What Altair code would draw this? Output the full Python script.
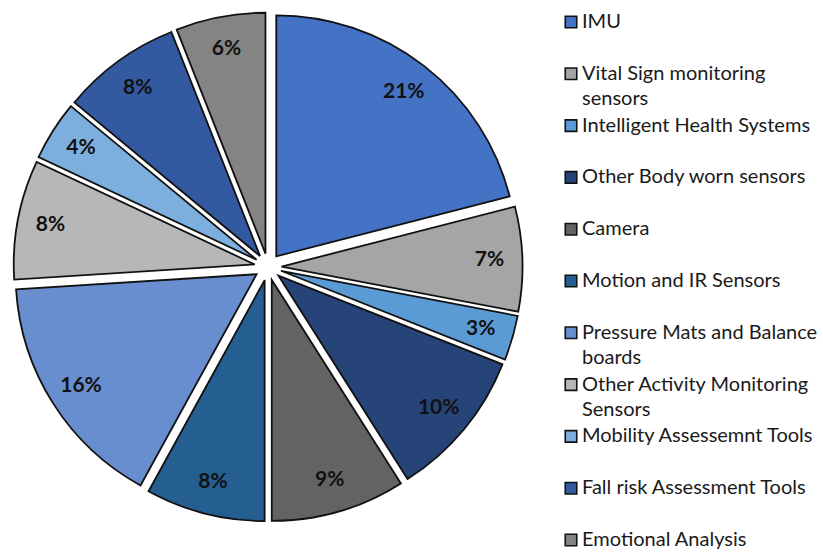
import altair as alt
import pandas as pd

# Sensor categories, their share of the studies (%) and slice colours
categories = [
    "IMU",
    "Vital Sign monitoring sensors",
    "Intelligent Health Systems",
    "Other Body worn sensors",
    "Camera",
    "Motion and IR Sensors",
    "Pressure Mats and Balance boards",
    "Other Activity Monitoring Sensors",
    "Mobility Assessemnt Tools",
    "Fall risk Assessment Tools",
    "Emotional Analysis",
]
shares = [21, 7, 3, 10, 9, 8, 16, 8, 4, 8, 6]
colors = [
    "#4472C4", "#A5A5A5", "#5B9BD5", "#264478", "#636363", "#255E91",
    "#698ED0", "#B7B7B7", "#7CAFDD", "#335AA1", "#848484",
]
# Legend text, wrapped the way the legend shows it
legend_text = [
    "IMU",
    "Vital Sign monitoring\nsensors",
    "Intelligent Health Systems",
    "Other Body worn sensors",
    "Camera",
    "Motion and IR Sensors",
    "Pressure Mats and Balance\nboards",
    "Other Activity Monitoring\nSensors",
    "Mobility Assessemnt Tools",
    "Fall risk Assessment Tools",
    "Emotional Analysis",
]

W, H = 823, 552
CX, CY = 268, 267      # pie centre
R = 241                # pie radius
EXPLODE = 13.5         # radial offset of each slice
LABEL_R = 208          # label distance from a slice's tip
FONT = "Lato"

pie = pd.DataFrame({"idx": range(len(categories)), "category": categories, "share": shares})
leg = pd.DataFrame({"idx": range(len(categories)), "category": categories, "text": legend_text})

color = alt.Color("category:N", scale=alt.Scale(domain=categories, range=colors), legend=None)

base = alt.Chart(pie).transform_window(
    cum="sum(share)", sort=[alt.SortField("idx")], frame=[None, 0]
).transform_calculate(
    t0="(datum.cum - datum.share) / 100 * 2 * PI",
    t1="datum.cum / 100 * 2 * PI",
).transform_calculate(
    mid="(datum.t0 + datum.t1) / 2"
).transform_calculate(
    px=f"{CX} + {EXPLODE} * sin(datum.mid)",
    py=f"{CY} - {EXPLODE} * cos(datum.mid)",
    lx=f"{CX} + {EXPLODE + LABEL_R} * sin(datum.mid)",
    ly=f"{CY} - {EXPLODE + LABEL_R} * cos(datum.mid)",
    lab="datum.share + '%'",
)

arcs = base.mark_arc(outerRadius=R, stroke="#111111", strokeWidth=1.8, strokeJoin="miter").encode(
    theta=alt.Theta("t0:Q", scale=None),
    theta2=alt.Theta2("t1:Q"),
    x=alt.X("px:Q", scale=None, axis=None),
    y=alt.Y("py:Q", scale=None, axis=None),
    color=color,
)

labels = base.mark_text(font=FONT, fontSize=21, fontWeight="bold", color="#111111",
                        align="center", baseline="middle").encode(
    x=alt.X("lx:Q", scale=None, axis=None),
    y=alt.Y("ly:Q", scale=None, axis=None),
    text="lab:N",
)

leg_base = alt.Chart(leg).transform_calculate(
    ly="22 + datum.idx * 51.8",
    lines="split(datum.text, '\\n')",
)

leg_marks = leg_base.mark_square(size=132, stroke="#111111", strokeWidth=1.6, opacity=1).encode(
    x=alt.value(571),
    y=alt.Y("ly:Q", scale=None, axis=None),
    color=color,
)

leg_text = leg_base.mark_text(font=FONT, fontSize=20, color="#1a1a1a", align="left",
                              baseline="middle", lineHeight=25).encode(
    x=alt.value(582),
    y=alt.Y("ly:Q", scale=None, axis=None),
    text="lines:N",
)

chart = alt.layer(arcs, labels, leg_marks, leg_text).properties(
    width=W, height=H, padding=0, autosize="none", background="white"
).configure_view(stroke=None)

chart.save("out.html", embed_options={"renderer": "svg", "actions": False})
